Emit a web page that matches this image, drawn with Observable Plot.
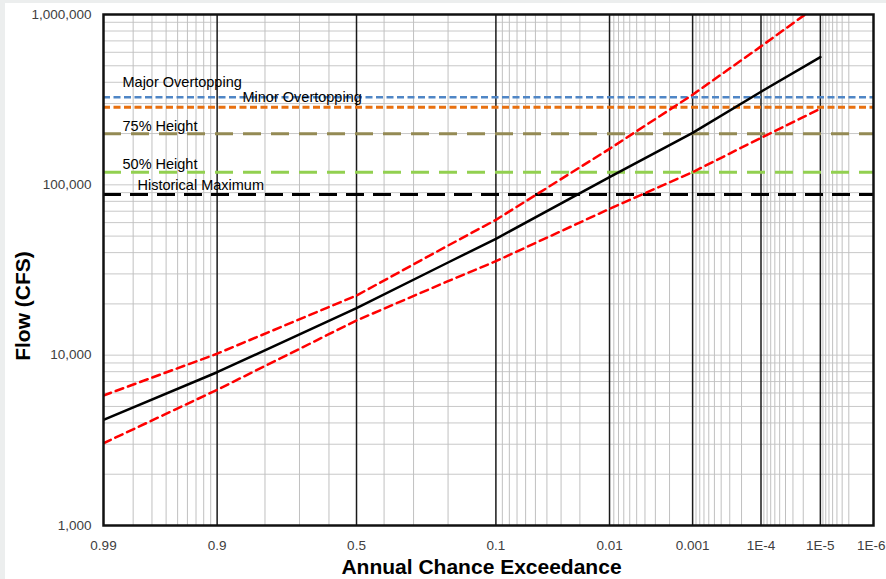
<!DOCTYPE html>
<html><head><meta charset="utf-8">
<script src="https://cdn.jsdelivr.net/npm/d3@7"></script>
<script src="https://cdn.jsdelivr.net/npm/@observablehq/plot@0.6"></script>
<style>
body{margin:0;background:#fff;}
#chart{position:relative;width:886px;height:579px;}
.band{position:absolute;background:#eceeee;pointer-events:none;}
</style>
</head><body><div id="chart"><div class="band" style="left:0;top:0;width:886px;height:3px"></div><div class="band" style="left:0;top:0;width:5px;height:579px"></div></div>
<script>
// ---- data ----
const aep      = [0.99, 0.9, 0.5, 0.2, 0.1, 0.01, 0.001, 1e-4, 1e-5];
const computed = [4175, 7940, 18870, 35000, 48200, 110900, 202000, 352000, 562000];
const upperCI  = [5800, 10200, 22400, 44000, 62300, 162700, 338000, 650000, 1160000];
const lowerCI  = [3040, 6260, 15980, 27200, 35620, 72300, 118700, 188800, 279500];

const levelNames = ["Major Overtopping", "Minor Overtopping", "75% Height", "50% Height", "Historical Maximum"];
const levelFlows = [327000, 285700, 199400, 118700, 87750];

const majorTicks = [0.99, 0.9, 0.5, 0.1, 0.01, 0.001, 1e-4, 1e-5, 1e-6];
const majorTickLabels = ["0.99", "0.9", "0.5", "0.1", "0.01", "0.001", "1E-4", "1E-5", "1E-6"];
const minorProbs = [0.98, 0.97, 0.96, 0.95, 0.94, 0.93, 0.92, 0.91,
  0.8, 0.7, 0.6, 0.4, 0.3, 0.2,
  0.09, 0.08, 0.07, 0.06, 0.05, 0.04, 0.03, 0.02,
  0.009, 0.008, 0.007, 0.006, 0.005, 0.004, 0.003, 0.002,
  9e-4, 8e-4, 7e-4, 6e-4, 5e-4, 4e-4, 3e-4, 2e-4,
  9e-5, 8e-5, 7e-5, 6e-5, 5e-5, 4e-5, 3e-5, 2e-5,
  9e-6, 8e-6, 7e-6, 6e-6, 5e-6, 4e-6, 3e-6];
const flowTicks = [1000, 10000, 100000, 1000000];
const flowGrid = [1000, 2000, 3000, 4000, 5000, 6000, 7000, 8000, 9000,
  10000, 20000, 30000, 40000, 50000, 60000, 70000, 80000, 90000,
  100000, 200000, 300000, 400000, 500000, 600000, 700000, 800000, 900000, 1000000];

// ---- styles ----
const levelStyles = [
  {stroke: "#4f86c6", strokeWidth: 2.5, strokeDasharray: "7,3.5", dy: -15, dx: 19},
  {stroke: "#e8700f", strokeWidth: 3, strokeDasharray: "7,3.5", dy: -10, dx: 139},
  {stroke: "#948a54", strokeWidth: 3, strokeDasharray: "18,10", dy: -7, dx: 19},
  {stroke: "#92d050", strokeWidth: 3, strokeDasharray: "18,10", dy: -8, dx: 19},
  {stroke: "#000000", strokeWidth: 3, strokeDasharray: "18,9", dy: -9, dx: 34}
];

// inverse normal CDF (Acklam)
function probit(p) {
  const a = [-3.969683028665376e+01, 2.209460984245205e+02, -2.759285104469687e+02, 1.383577518672690e+02, -3.066479806614716e+01, 2.506628277459239e+00];
  const b = [-5.447609879822406e+01, 1.615858368580409e+02, -1.556989798598866e+02, 6.680131188771972e+01, -1.328068155288572e+01];
  const c = [-7.784894002430293e-03, -3.223964580411365e-01, -2.400758277161838e+00, -2.549732539343734e+00, 4.374664141464968e+00, 2.938163982698783e+00];
  const d = [7.784695709041462e-03, 3.224671290700398e-01, 2.445134137142996e+00, 3.754408661907416e+00];
  const pl = 0.02425, ph = 1 - pl;
  let q, r;
  if (p < pl) {
    q = Math.sqrt(-2 * Math.log(p));
    return (((((c[0]*q+c[1])*q+c[2])*q+c[3])*q+c[4])*q+c[5]) / ((((d[0]*q+d[1])*q+d[2])*q+d[3])*q+1);
  } else if (p <= ph) {
    q = p - 0.5; r = q * q;
    return (((((a[0]*r+a[1])*r+a[2])*r+a[3])*r+a[4])*r+a[5])*q / (((((b[0]*r+b[1])*r+b[2])*r+b[3])*r+b[4])*r+1);
  } else {
    q = Math.sqrt(-2 * Math.log(1 - p));
    return -(((((c[0]*q+c[1])*q+c[2])*q+c[3])*q+c[4])*q+c[5]) / ((((d[0]*q+d[1])*q+d[2])*q+d[3])*q+1);
  }
}
const X = p => -probit(p);

const rows = aep.map((p, i) => ({p, computed: computed[i], upper: upperCI[i], lower: lowerCI[i]}));
const levels = levelNames.map((name, i) => ({name, flow: levelFlows[i]}));
const xTickRows = majorTicks.map((p, i) => ({p, label: majorTickLabels[i]}));

const levelMarks = levels.map((lv, i) => {
  const s = levelStyles[i];
  return Plot.ruleY([lv], {y: "flow", stroke: s.stroke, strokeWidth: s.strokeWidth, strokeDasharray: s.strokeDasharray});
});
const labelMarks = levels.map((lv, i) => Plot.text([lv], {
  x: () => X(0.99), y: "flow", text: "name", textAnchor: "start",
  dx: levelStyles[i].dx, dy: levelStyles[i].dy, fontSize: 14.5, fill: "#000"
}));

const chart = Plot.plot({
  width: 886, height: 579,
  marginLeft: 103, marginRight: 13, marginTop: 14, marginBottom: 54,
  style: {fontFamily: "'Liberation Sans', Arial, sans-serif", fontSize: "13.5px", color: "#404040", background: "transparent", position: "absolute", left: "0", top: "0"},
  x: {type: "linear", domain: [X(0.99), X(1e-6)], axis: null},
  y: {type: "log", domain: [1000, 1000000], ticks: flowTicks, tickFormat: d3.format(","),
      tickSize: 0, tickPadding: 12, label: null},
  marks: [
    Plot.ruleY(flowGrid, {stroke: "#c8c8c8", strokeWidth: 1}),
    Plot.ruleX(minorProbs, {x: X, stroke: "#c0c0c0", strokeWidth: 1}),
    Plot.ruleX(majorTicks.slice(1, -1), {x: X, stroke: "#1a1a1a", strokeWidth: 1.5}),
    ...levelMarks,
    Plot.line(rows, {x: d => X(d.p), y: "upper", stroke: "#ff0000", strokeWidth: 2.5, strokeDasharray: "8,5", clip: true}),
    Plot.line(rows, {x: d => X(d.p), y: "lower", stroke: "#ff0000", strokeWidth: 2.5, strokeDasharray: "8,5", clip: true}),
    Plot.line(rows, {x: d => X(d.p), y: "computed", stroke: "#000", strokeWidth: 2.5, clip: true}),
    ...labelMarks,
    Plot.frame({stroke: "#111", strokeWidth: 2.5}),
    // x tick labels
    Plot.text(xTickRows.slice(0, -1), {x: d => X(d.p), text: "label", frameAnchor: "bottom", lineAnchor: "middle", dy: 20, fill: "#404040"}),
    Plot.text(xTickRows.slice(-1), {x: d => X(d.p), text: "label", frameAnchor: "bottom", lineAnchor: "middle", textAnchor: "end", dx: 12, dy: 20, fill: "#404040"}),
    Plot.text(["Flow (CFS)"], {frameAnchor: "left", textAnchor: "middle", lineAnchor: "middle", dx: -80, dy: 36, rotate: -90, fontSize: 21, fontWeight: "bold", fill: "#000"}),
    Plot.text(["Annual Chance Exceedance"], {frameAnchor: "bottom", textAnchor: "middle", lineAnchor: "middle", dx: -7, dy: 42, fontSize: 21, fontWeight: "bold", fill: "#000"})
  ]
});
document.getElementById("chart").appendChild(chart);
</script>
</body></html>
